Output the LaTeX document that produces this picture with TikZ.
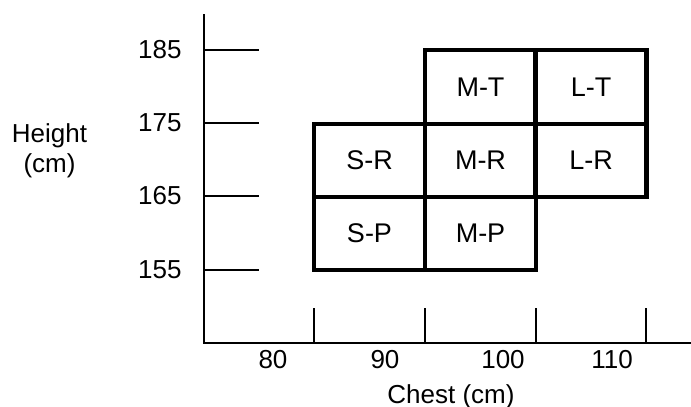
\documentclass[tikz,border=0pt]{standalone}
\usepackage{fontspec}
\setmainfont{Liberation Sans}
\begin{document}
\begin{tikzpicture}[x=0.5pt,y=-0.5pt]
  \tikzset{lbl/.style={inner sep=0pt,font=\fontsize{13}{15}\selectfont},
           sizebox/.style={lbl,draw,line width=2.2pt,minimum width=55.5pt,minimum height=36.75pt,font=\fontsize{13.5}{15}\selectfont}}
  \useasboundingbox (0,0) rectangle (691,407);
  % axes
  \coordinate (o) at (204,343);
  \coordinate (ytop) at (204,14);
  \coordinate (xend) at (691,343);
  \draw[line width=1pt] (ytop) -- (o) -- (xend);

  % height ticks
  \foreach \y/\v in {50/185,123/175,196/165,270/155} {
    \draw[line width=1pt] (204,\y) -- (259,\y);
    \node[lbl,anchor=east] (h\v) at (182,\y) {\v};
  };
  % chest ticks
  \foreach \x in {314,425,536,646} {
    \draw[line width=1pt] (\x,308) -- (\x,343);
  };
  \foreach \x/\v in {273/80,385/90,503/100,612/110} {
    \node[lbl] (c\v) at (\x,359.5) {\v};
  };

  % sizes
  \foreach \x/\y/\t in {480.5/87/M-T,591/87/L-T,369.5/160.5/S-R,480.5/160.5/M-R,591/160.5/L-R,369.5/233.5/S-P,480.5/233.5/M-P} {
    \node[sizebox] (\t) at (\x,\y) {\t};
  };

  % axis titles
  \node[lbl,align=center,anchor=base] (ylab) at (49.5,172) {Height\\(cm)};
  \node[lbl,anchor=base] (xlab) at (451,403) {Chest (cm)};
\end{tikzpicture}
\end{document}
